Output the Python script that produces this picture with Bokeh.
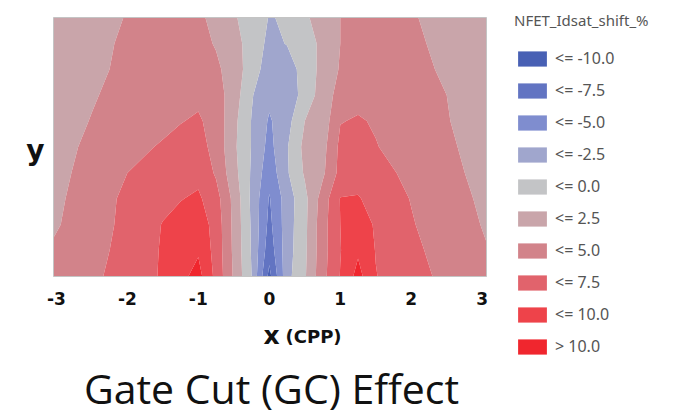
import numpy as np
from bokeh.plotting import figure
from bokeh.models import Range1d, Label, Legend, LegendItem, ColumnDataSource
from bokeh.core.properties import value
from bokeh.embed import file_html
from bokeh.resources import INLINE

# ---- data ----
X_GRID = [-3.04, -2.5, -2.0, -1.5, -1.25, -1.0, -0.75, -0.5, -0.25, 0.0,
          0.25, 0.5, 0.75, 1.0, 1.25, 1.5, 2.0, 2.5, 3.06]
Y_GRID = [0, 1, 2, 3, 4, 5, 6, 7, 8, 9, 10]

Z_Y0 = [4.0, 4.6, 5.85, 7.8, 9.3, 10.9, 6.8, 2.2, -2.5, -10.8, -3.3, -0.3, 4.2, 7.6, 10.9, 7.6, 5.6, 4.6, 4.0]
Z_Y1 = [2.8, 4.0, 6.0, 7.7, 8.8, 9.7, 6.6, 2.0, -2.7, -9.0, -3.6, -0.5, 4.0, 7.4, 9.6, 7.4, 5.7, 3.8, 2.6]
Z_Y2 = [2.2, 3.8, 5.7, 7.6, 8.4, 9.0, 6.5, 1.9, -2.8, -8.2, -3.7, -0.6, 4.0, 7.5, 8.9, 7.2, 5.2, 3.6, 2.3]
Z_Y3 = [2.0, 3.6, 5.6, 6.9, 7.4, 7.9, 6.0, 1.8, -3.0, -7.7, -3.8, -0.7, 3.6, 7.6, 7.7, 6.6, 4.9, 3.3, 2.1]
Z_Y4 = [1.8, 3.3, 5.0, 6.2, 6.6, 6.8, 4.7, 0.9, -2.8, -6.6, -2.8, 0.3, 2.0, 5.8, 6.4, 6.0, 4.3, 3.0, 1.9]
Z_Y5 = [1.6, 3.0, 4.4, 5.2, 5.8, 5.9, 4.2, 0.5, -2.6, -5.8, -2.7, 0.7, 1.6, 5.6, 5.9, 5.1, 4.0, 2.8, 1.7]
Z_Y6 = [1.4, 2.6, 3.7, 4.5, 4.9, 5.3, 4.1, 0.7, -2.6, -5.3, -3.4, 0.0, 1.0, 4.9, 5.2, 4.8, 3.6, 2.6, 1.5]
Z_Y7 = [1.2, 2.3, 3.3, 4.0, 4.3, 4.5, 3.6, 1.3, -2.3, -4.4, -4.0, -1.6, 1.2, 3.4, 4.4, 4.5, 3.4, 2.5, 1.3]
Z_Y8 = [1.0, 2.0, 3.0, 3.6, 3.8, 3.8, 3.0, 1.3, -1.2, -3.8, -3.6, -1.6, 0.8, 2.7, 3.8, 3.9, 3.1, 2.2, 1.1]
Z_Y9 = [0.9, 1.8, 2.9, 3.3, 3.4, 3.3, 2.3, 0.9, -1.0, -3.1, -2.4, -1.4, 0.7, 2.5, 3.3, 3.4, 2.8, 2.1, 1.0]
Z_Y10 = [0.8, 1.7, 2.6, 3.1, 3.1, 2.9, 1.9, 0.3, -1.2, -2.6, -2.3, -0.4, 1.1, 2.5, 3.0, 3.2, 2.6, 2.1, 1.2]

LEVELS = [-13, -10, -7.5, -5, -2.5, 0, 2.5, 5, 7.5, 10, 13]
BIN_LABELS = ["<= -10.0", "<= -7.5", "<= -5.0", "<= -2.5", "<= 0.0",
              "<= 2.5", "<= 5.0", "<= 7.5", "<= 10.0", "> 10.0"]
BIN_COLORS = ["#4860b4", "#6274c2", "#7f8dcf", "#a0a6cd", "#c3c4c6",
              "#c9a5aa", "#d2838a", "#e1636c", "#ee434a", "#f0262e"]
X_TICKS = [-3, -2, -1, 0, 1, 2, 3]
X_TICK_LABELS = ["-3", "-2", "-1", "0", "1", "2", "3"]

Z = [Z_Y0, Z_Y1, Z_Y2, Z_Y3, Z_Y4, Z_Y5, Z_Y6, Z_Y7, Z_Y8, Z_Y9, Z_Y10]

# ---- layout (pixels of the page) ----
W, H = 673, 417
PLOT_L, PLOT_R, PLOT_T, PLOT_B = 53, 486, 17, 276
sx = (PLOT_R - PLOT_L) / (X_GRID[-1] - X_GRID[0])
sy = (PLOT_B - PLOT_T) / (Y_GRID[-1] - Y_GRID[0])
x_range = Range1d(X_GRID[0] - PLOT_L / sx, X_GRID[-1] + (W - PLOT_R) / sx)
y_range = Range1d(Y_GRID[0] - (H - PLOT_B) / sy, Y_GRID[-1] + PLOT_T / sy)

p = figure(width=W, height=H, output_backend="svg", toolbar_location=None,
           x_range=x_range, y_range=y_range, min_border=0,
           x_axis_type=None, y_axis_type=None)
p.xgrid.visible = False
p.ygrid.visible = False
p.outline_line_color = None

p.contour(x=X_GRID, y=Y_GRID, z=Z, levels=LEVELS, fill_color=BIN_COLORS,
          line_color=None)

# plot-area border
p.quad(left=[X_GRID[0]], right=[X_GRID[-1]], bottom=[Y_GRID[0]], top=[Y_GRID[-1]],
       fill_color=None, line_color="#c4c4c4", line_width=1)

# x tick labels
tick_y = Y_GRID[0] - 22 / sy
p.text(x=X_TICKS, y=[tick_y] * len(X_TICKS), text=X_TICK_LABELS,
       text_font=value("DejaVu Sans"), text_font_style="bold",
       text_font_size="17px", text_align="center", text_baseline="middle",
       text_color="#111111")

# legend (swatches only, no visible marks)
n = len(BIN_LABELS)
leg_src = ColumnDataSource(dict(left=np.full(n, np.nan), right=np.full(n, np.nan),
                                top=np.full(n, np.nan), bottom=np.full(n, np.nan),
                                color=BIN_COLORS))
leg_r = p.quad(left="left", right="right", top="top", bottom="bottom",
               fill_color="color", line_color=None, source=leg_src)
items = [LegendItem(label=lab, renderers=[leg_r], index=i)
         for i, lab in enumerate(BIN_LABELS)]

legend = Legend(items=items, location=(514, 60),
                title="NFET_Idsat_shift_%", title_text_font="Noto Sans",
                title_text_font_size="15px", title_text_color="#555555",
                title_text_font_style="normal", title_standoff=17,
                label_text_font="Noto Sans", label_text_font_size="16px",
                label_text_color="#555555", glyph_width=36, glyph_height=19,
                label_standoff=5, spacing=10, label_height=20, padding=0,
                margin=0, border_line_color=None, background_fill_alpha=0)
p.add_layout(legend)

p.add_layout(Label(x=35, y=H - 150, x_units="screen", y_units="screen", text="y",
                   text_font="DejaVu Sans", text_font_style="bold",
                   text_font_size="28px", text_align="center",
                   text_baseline="alphabetic", text_color="#111111"))
p.add_layout(Label(x=271, y=H - 335, x_units="screen", y_units="screen", text="x",
                   text_font="DejaVu Sans", text_font_style="bold",
                   text_font_size="25px", text_align="center",
                   text_baseline="alphabetic", text_color="#111111"))
p.add_layout(Label(x=285, y=H - 336, x_units="screen", y_units="screen", text="(CPP)",
                   text_font="DejaVu Sans", text_font_style="bold",
                   text_font_size="18px", text_align="left",
                   text_baseline="alphabetic", text_color="#111111"))
p.add_layout(Label(x=271, y=H - 387, x_units="screen", y_units="screen",
                   text="Gate Cut (GC) Effect", text_font="Open Sans",
                   text_font_size="41px", text_align="center",
                   text_baseline="alphabetic", text_color="#111111"))

open("out.html", "w").write(file_html(p, INLINE))
